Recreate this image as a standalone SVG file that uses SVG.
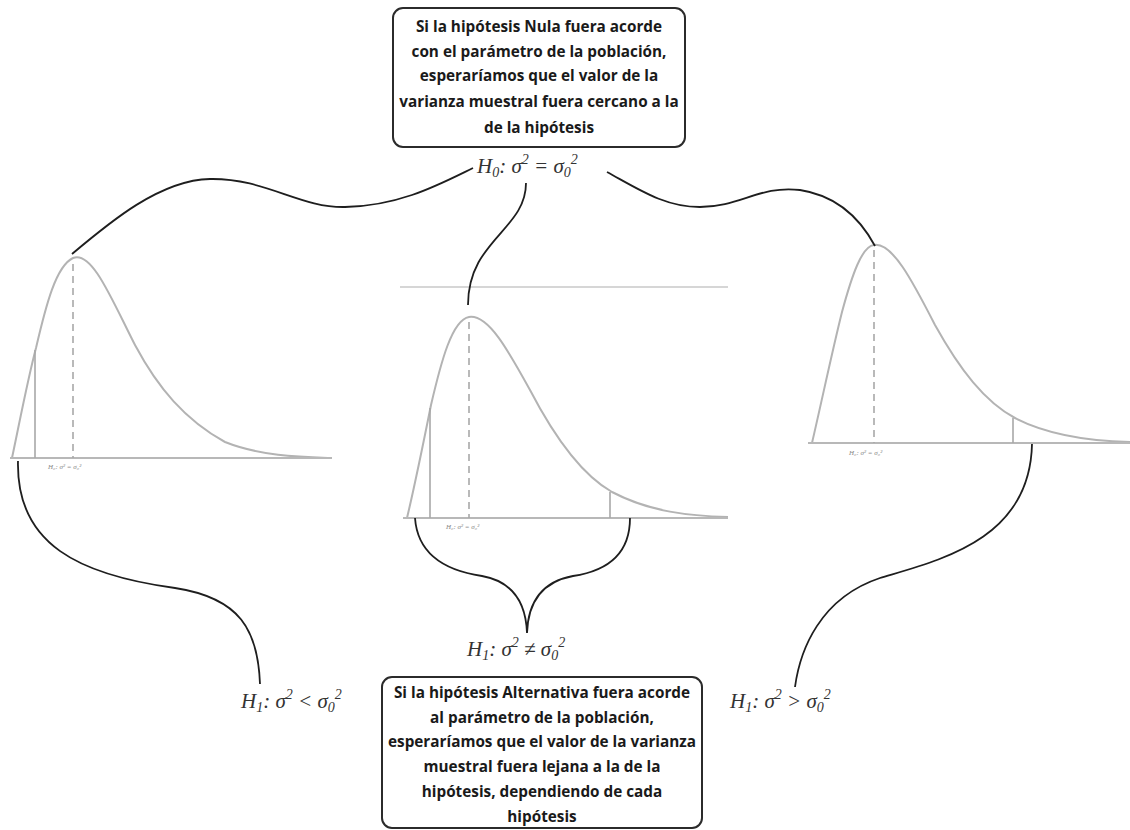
<svg xmlns="http://www.w3.org/2000/svg" width="1130" height="830" viewBox="0 0 1130 830">
  <style>
    .box { fill: #ffffff; stroke: #2b2b2b; stroke-width: 2; }
    .boxtxt { font-family: "Open Sans", "Liberation Sans", sans-serif; font-weight: bold; font-size: 15.3px; fill: #1a1a1a; text-anchor: middle; }
    .math { font-family: "Liberation Serif", "DejaVu Serif", serif; font-style: italic; font-size: 21px; fill: #333; }
    .sm { font-size: 14px; }
    .tiny { font-family: "Liberation Serif", serif; font-style: italic; font-size: 7px; fill: #888; }
    .curve { fill: none; stroke: #b3b3b3; stroke-width: 2; }
    .axis { fill: none; stroke: #b8b8b8; stroke-width: 2; }
    .crit { fill: none; stroke: #a8a8a8; stroke-width: 1.6; }
    .mode { fill: none; stroke: #a8a8a8; stroke-width: 1.6; stroke-dasharray: 7 5; }
    .link { fill: none; stroke: #1e1e1e; stroke-width: 1.8; }
  </style>

  <!-- Null hypothesis box -->
  <g id="null-box">
    <rect class="box" x="393" y="8" width="292" height="139" rx="10"/>
    <text class="boxtxt" x="539" y="32">Si la hipótesis Nula fuera acorde</text>
    <text class="boxtxt" x="539" y="57">con el parámetro de la población,</text>
    <text class="boxtxt" x="539" y="81">esperaríamos que el valor de la</text>
    <text class="boxtxt" x="539" y="107">varianza muestral fuera cercano a la</text>
    <text class="boxtxt" x="539" y="133">de la hipótesis</text>
  </g>

  <!-- H0 label -->
  <g id="h0">
    <text class="math" x="477" y="173">H<tspan class="sm" dy="4">0</tspan><tspan dy="-4">: σ</tspan><tspan class="sm" dy="-9">2</tspan><tspan dy="9"> =  σ</tspan><tspan class="sm" dy="4">0</tspan><tspan class="sm" dy="-13">2</tspan></text>
  </g>

  <!-- Left distribution (lower tail) -->
  <g id="dist-left">
    <path class="curve" d="M12,458 C20,420 28,378 36,348 C46,305 56,266 73,258 C92,250 112,300 135,345 C158,388 185,420 225,442 C260,456 300,457 330,458"/>
    <line class="axis" x1="10" y1="458" x2="332" y2="458"/>
    <line class="crit" x1="35" y1="350" x2="35" y2="458"/>
    <line class="mode" x1="73" y1="264" x2="73" y2="458"/>
    <text class="tiny" x="48" y="469">H₀: σ² = σ₀²</text>
  </g>

  <!-- Middle distribution (two tails) -->
  <g id="dist-middle">
    <line x1="400" y1="287" x2="728" y2="287" stroke="#c8c8c8" stroke-width="1.5"/>
    <path class="curve" d="M407,518 C416,480 424,440 431,405 C441,362 452,320 469,317 C488,314 508,350 530,390 C556,440 582,475 612,492 C650,512 690,516 728,517"/>
    <line class="axis" x1="403" y1="518" x2="728" y2="518"/>
    <line class="crit" x1="430" y1="408" x2="430" y2="518"/>
    <line class="crit" x1="610" y1="492" x2="610" y2="518"/>
    <line class="mode" x1="469" y1="322" x2="469" y2="518"/>
    <text class="tiny" x="446" y="529">H₀: σ² = σ₀²</text>
  </g>

  <!-- Right distribution (upper tail) -->
  <g id="dist-right">
    <path class="curve" d="M812,443 C822,400 832,352 842,312 C852,275 862,246 874,245 C892,242 912,280 935,325 C960,370 985,402 1015,418 C1050,436 1090,441 1130,442"/>
    <line class="axis" x1="808" y1="443" x2="1130" y2="443"/>
    <line class="crit" x1="1013" y1="418" x2="1013" y2="443"/>
    <line class="mode" x1="874" y1="250" x2="874" y2="443"/>
    <text class="tiny" x="849" y="455">H₀: σ² = σ₀²</text>
  </g>

  <!-- Alternative hypothesis labels -->
  <g id="h1-less">
    <text class="math" x="241" y="708">H<tspan class="sm" dy="4">1</tspan><tspan dy="-4">: σ</tspan><tspan class="sm" dy="-9">2</tspan><tspan dy="9"> &lt; σ</tspan><tspan class="sm" dy="4">0</tspan><tspan class="sm" dy="-13">2</tspan></text>
  </g>
  <g id="h1-neq">
    <text class="math" x="467" y="656">H<tspan class="sm" dy="4">1</tspan><tspan dy="-4">: σ</tspan><tspan class="sm" dy="-9">2</tspan><tspan dy="9"> ≠ σ</tspan><tspan class="sm" dy="4">0</tspan><tspan class="sm" dy="-13">2</tspan></text>
  </g>
  <g id="h1-greater">
    <text class="math" x="730" y="708">H<tspan class="sm" dy="4">1</tspan><tspan dy="-4">: σ</tspan><tspan class="sm" dy="-9">2</tspan><tspan dy="9"> &gt; σ</tspan><tspan class="sm" dy="4">0</tspan><tspan class="sm" dy="-13">2</tspan></text>
  </g>

  <!-- Alternative hypothesis box -->
  <g id="alt-box">
    <rect class="box" x="382" y="677" width="320" height="151" rx="10"/>
    <text class="boxtxt" x="542" y="698">Si la hipótesis Alternativa fuera acorde</text>
    <text class="boxtxt" x="542" y="723">al parámetro de la población,</text>
    <text class="boxtxt" x="542" y="747">esperaríamos que el valor de la varianza</text>
    <text class="boxtxt" x="542" y="772">muestral fuera lejana a la de la</text>
    <text class="boxtxt" x="542" y="797">hipótesis, dependiendo de cada</text>
    <text class="boxtxt" x="542" y="822">hipótesis</text>
  </g>

  <!-- Connectors -->
  <g id="connectors">
    <path class="link" d="M72,254 C110,222 160,180 210,179 C265,178 300,208 345,207 C400,206 440,184 473,168"/>
    <path class="link" d="M607,172 C640,190 665,207 700,207 C740,207 760,185 800,190 C840,196 862,222 875,246"/>
    <path class="link" d="M526,183 C526,230 468,240 468,305"/>
    <path class="link" d="M18,461 C16,545 80,575 175,588 C240,598 258,630 260,684"/>
    <path class="link" d="M415,518 C418,560 455,572 482,576 C515,582 526,605 527,633 C528,605 540,582 573,576 C600,572 630,560 630,518"/>
    <path class="link" d="M1032,444 C1030,540 940,560 880,578 C820,598 800,650 795,687"/>
  </g>
</svg>
